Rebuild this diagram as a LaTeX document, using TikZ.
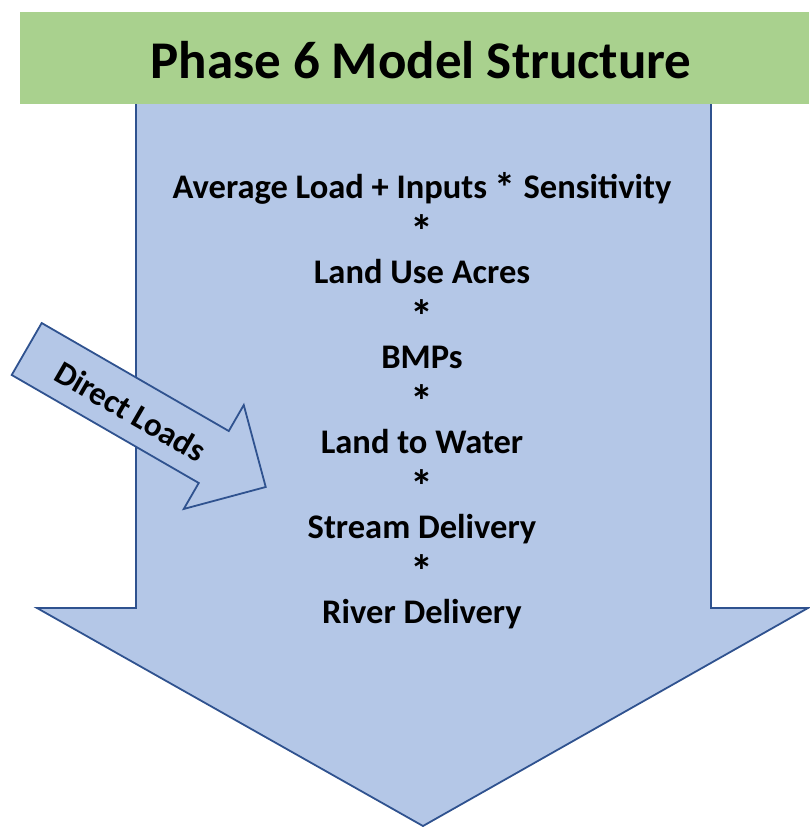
\documentclass[tikz,border=0pt]{standalone}
\usepackage{fontspec}
\setmainfont{Carlito}
\usetikzlibrary{positioning}
\definecolor{arrowblue}{HTML}{B4C7E7}
\definecolor{arrowline}{HTML}{2F528F}
\definecolor{titlegreen}{HTML}{A9D18E}
\newcommand{\timesmark}{\raisebox{-6pt}{\fontsize{46}{42.5}\selectfont *}}

\begin{document}
\begin{tikzpicture}[x=1pt,y=-1pt,
  bigarrow/.style={fill=arrowblue,draw=arrowline,line width=1.8pt,line join=miter},
  titlebar/.style={fill=titlegreen,draw=none},
  titletext/.style={font=\fontsize{53}{60}\selectfont\bfseries},
  steptext/.style={font=\fontsize{34.5}{42.5}\selectfont\bfseries,align=center},
  loadtext/.style={font=\fontsize{33}{38}\selectfont\bfseries}]
  \useasboundingbox (0,0) rectangle (809,827);
  % Main arrow
  \draw[bigarrow] (136,100) -- (136,608) -- (37,608) -- (423,826)
    -- (808,608) -- (711,608) -- (711,100);
  % Title bar
  \fill[titlebar] (20,12) rectangle (809,104);
  \node[titletext] (title) at (421,60) {Phase 6 Model Structure};
  % Model steps
  \node[steptext] (steps) at (422,401) {Average Load + Inputs
    \raisebox{-4pt}{\fontsize{42}{42.5}\selectfont *} Sensitivity\\
    \timesmark\\ Land Use Acres\\ \timesmark\\ BMPs\\ \timesmark\\
    Land to Water\\ \timesmark\\ Stream Delivery\\ \timesmark\\
    River Delivery};
  % Direct loads
  \begin{scope}[shift={(26.7,349)},rotate=-30]
    \draw[bigarrow] (0,-30) -- (216,-30) -- (216,-60) -- (276,0)
      -- (216,60) -- (216,30) -- (0,30) -- cycle;
    \node[loadtext,rotate=-30] (direct) at (121,2) {Direct Loads};
  \end{scope}
\end{tikzpicture}
\end{document}
